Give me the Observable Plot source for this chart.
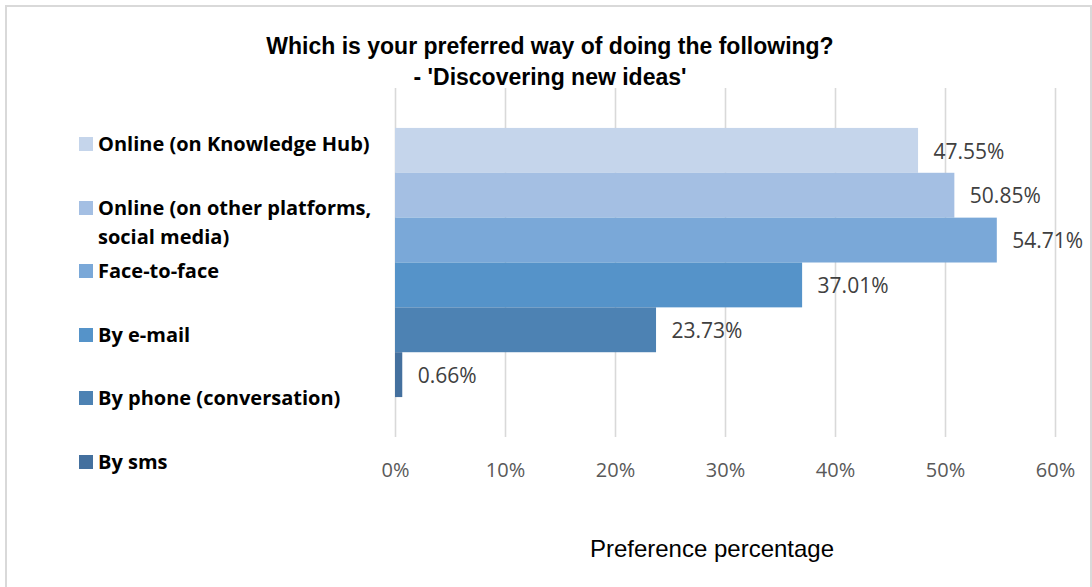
<!DOCTYPE html>
<html>
<head>
<meta charset="utf-8">
<script src="https://cdn.jsdelivr.net/npm/d3@7"></script>
<script src="https://cdn.jsdelivr.net/npm/@observablehq/plot@0.6"></script>
<style>
  html, body { margin: 0; padding: 0; background: #ffffff; }
  #chart { position: relative; width: 1092px; height: 587px; overflow: hidden; background: #fff; }
  #frame { position: absolute; left: 5px; top: 5px; width: 1087px; height: 640px; box-sizing: border-box; border: 2px solid #d9d9d9; }
  #plot { position: absolute; left: 0; top: 0; }
  #title { position: absolute; left: 4px; top: 31px; width: 1092px; text-align: center;
           font-family: "Liberation Sans", Arial, sans-serif; font-weight: bold; font-size: 23px; line-height: 31px; color: #000; }
  #xtitle { position: absolute; left: 412px; top: 535px; width: 600px; text-align: center;
           font-family: "Liberation Sans", Arial, sans-serif; font-size: 24px; line-height: 28px; color: #000; }
  .leg { position: absolute; left: 79px; display: flex; align-items: flex-start;
         font-family: "Open Sans", sans-serif; font-weight: bold; font-size: 20px; line-height: 29px; color: #000; }
  .sw { width: 14px; height: 14px; margin-top: 8px; margin-right: 5px; flex: none; }
</style>
</head>
<body>
<div id="chart">
  <div id="frame"></div>
  <div id="plot"></div>
  <div id="title">Which is your preferred way of doing the following?<br>- 'Discovering new ideas'</div>
  <div id="xtitle">Preference percentage</div>
</div>
<script>
// Data
const categories = [
  "Online (on Knowledge Hub)",
  "Online (on other platforms, social media)",
  "Face-to-face",
  "By e-mail",
  "By phone (conversation)",
  "By sms"
];
const legendLines = [
  ["Online (on Knowledge Hub)"],
  ["Online (on other platforms,", "social media)"],
  ["Face-to-face"],
  ["By e-mail"],
  ["By phone (conversation)"],
  ["By sms"]
];
const values = [47.55, 50.85, 54.71, 37.01, 23.73, 0.66];
const colors = ["#C5D5EB", "#A4BFE3", "#7AA8D8", "#5593C9", "#4D82B3", "#44709E"];
const xTicks = [0, 10, 20, 30, 40, 50, 60];

const data = categories.map((name, i) => ({name, value: values[i]}));

const plot = Plot.plot({
  width: 1092,
  height: 587,
  marginLeft: 395,
  marginRight: 37,
  marginTop: 88,
  marginBottom: 150,
  style: {fontFamily: "'Open Sans', sans-serif", background: "transparent"},
  x: {domain: [0, 60], ticks: xTicks, tickFormat: d => d + "%"},
  y: {domain: categories, paddingInner: 0, paddingOuter: 0.89, round: false, axis: null},
  color: {domain: categories, range: colors},
  marks: [
    Plot.gridX(xTicks, {stroke: "#d9d9d9", strokeOpacity: 1, strokeWidth: 1.6}),
    Plot.axisX({ticks: xTicks, tickFormat: d => d + "%", tickSize: 0, tickPadding: 25,
                fontSize: 20, color: "#595959", label: null}),
    Plot.barX(data, {x: "value", y: "name", fill: "name", insetTop: 0, insetBottom: 0}),
    Plot.text(data, {x: "value", y: "name", text: d => d.value.toFixed(2) + "%",
                     dx: 15, dy: 1, textAnchor: "start", fontSize: 21, fill: "#404040"})
  ]
});
document.getElementById("plot").appendChild(plot);

// Legend (left side)
const chart = document.getElementById("chart");
legendLines.forEach((lines, i) => {
  const item = document.createElement("div");
  item.className = "leg";
  item.style.top = (144 + i * 63.6 - 15) + "px";
  const sw = document.createElement("div");
  sw.className = "sw";
  sw.style.background = colors[i];
  const txt = document.createElement("div");
  txt.innerHTML = lines.join("<br>");
  item.appendChild(sw);
  item.appendChild(txt);
  chart.appendChild(item);
});
</script>
</body>
</html>
